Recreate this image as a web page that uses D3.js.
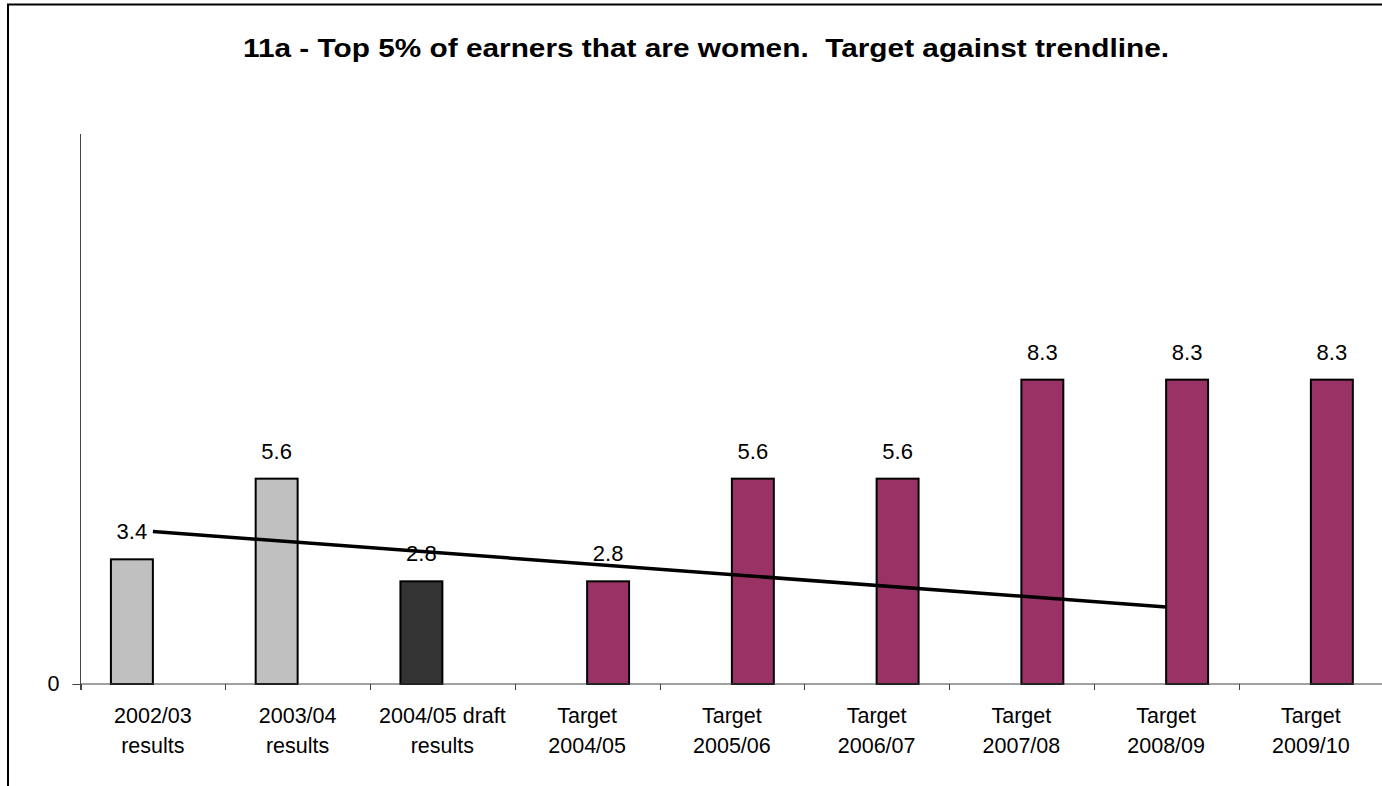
<!DOCTYPE html>
<meta charset="utf-8">
<style>
    body {
        margin: 0;
        background: white;
    }

    svg {
        font-family: "Liberation Sans", Arial, sans-serif;
        display: block;
    }
</style>
<body>
<script src="https://cdn.jsdelivr.net/npm/d3@7"></script>
<script>
    // chart values
    const categories = ["2002/03 results", "2003/04 results", "2004/05 draft results",
        "Target 2004/05", "Target 2005/06", "Target 2006/07", "Target 2007/08",
        "Target 2008/09", "Target 2009/10"];
    const categoryLines = [["2002/03", "results"], ["2003/04", "results"], ["2004/05 draft", "results"],
        ["Target", "2004/05"], ["Target", "2005/06"], ["Target", "2006/07"], ["Target", "2007/08"],
        ["Target", "2008/09"], ["Target", "2009/10"]];
    const resultValues = [3.4, 5.6, 2.8, null, null, null, null, null, null];
    const resultStatus = ["final", "final", "draft", null, null, null, null, null, null];
    const targetValues = [null, null, null, 2.8, 5.6, 5.6, 8.3, 8.3, 8.3];
    // trendline end points (first and last category it spans)
    const trendCategories = ["2002/03 results", "Target 2008/09"];
    const trendValues = [4.16, 2.10];
    const yTicks = [0];
    const title = "11a - Top 5% of earners that are women.  Target against trendline.";

    // Layout specifications
    const width = 1382;
    const height = 786;
    const plot = {left: 80.5, top: 134, bottom: 684, right: 1383.25};

    const svg = d3.select('body')
        .append('svg')
        .attr('width', width)
        .attr('height', height);

    // outer chart frame (runs off the right and bottom edge)
    svg.append('rect')
        .attr('x', 8)
        .attr('y', 4.5)
        .attr('width', width + 20)
        .attr('height', height + 20)
        .style('fill', 'none')
        .style('stroke', 'black')
        .style('stroke-width', 2);

    // title is a bit wider in the original than the font alone gives
    svg.append('text')
        .attr('x', 706)
        .attr('y', 57)
        .attr('textLength', 926)
        .attr('lengthAdjust', 'spacingAndGlyphs')
        .style('text-anchor', 'middle')
        .style('white-space', 'pre')
        .style('font-weight', 'bold')
        .style('font-size', '25px')
        .text(title);

    // scales
    const x = d3.scaleBand()
        .domain(categories)
        .range([plot.left, plot.right])
        .padding(0);

    // two slots per category, gap width like excel's 145%
    const slot = d3.scaleBand()
        .domain(["result", "target"])
        .range([0, x.bandwidth()])
        .paddingInner(0)
        .paddingOuter(0.725);

    const y = d3.scaleLinear()
        .domain([0, 15])
        .range([plot.bottom, plot.top]);

    const statusColor = {final: '#c0c0c0', draft: '#333333'};
    const targetColor = '#993366';

    // bars
    const bars = [];
    categories.forEach((c, i) => {
        if (resultValues[i] != null) {
            bars.push({cat: c, key: "result", value: resultValues[i], fill: statusColor[resultStatus[i]]});
        }
        if (targetValues[i] != null) {
            bars.push({cat: c, key: "target", value: targetValues[i], fill: targetColor});
        }
    });

    svg.append('g')
        .attr('class', 'bars')
        .selectAll('rect')
        .data(bars)
        .enter().append('rect')
        .attr('x', d => x(d.cat) + slot(d.key))
        .attr('y', d => y(d.value))
        .attr('width', slot.bandwidth())
        .attr('height', d => y(0) - y(d.value))
        .style('fill', d => d.fill)
        .style('stroke', 'black')
        .style('stroke-width', 2);

    // y axis
    const yAxis = d3.axisLeft(y)
        .tickValues(yTicks)
        .tickSize(8)
        .tickPadding(13)
        .tickFormat(d3.format('d'));

    const yg = svg.append('g')
        .attr('transform', `translate(${plot.left},0)`)
        .call(yAxis);
    yg.select('.domain').attr('d', `M0,${plot.top}V${plot.bottom + 6}`);

    // x axis with ticks between categories
    const xg = svg.append('g')
        .attr('class', 'x axis');
    xg.append('line')
        .attr('x1', plot.left)
        .attr('x2', plot.right)
        .attr('y1', plot.bottom)
        .attr('y2', plot.bottom)
        .style('stroke', '#444');
    xg.selectAll('.tick')
        .data(categories)
        .enter().append('line')
        .attr('class', 'tick')
        .attr('x1', d => Math.round(x(d)) + 0.5)
        .attr('x2', d => Math.round(x(d)) + 0.5)
        .attr('y1', plot.bottom)
        .attr('y2', plot.bottom + 6)
        .style('stroke', '#444');

    xg.selectAll('text')
        .data(categories)
        .enter().append('text')
        .attr('x', d => x(d) + x.bandwidth() / 2)
        .attr('y', 722.5)
        .style('text-anchor', 'middle')
        .style('font-size', '21.5px')
        .selectAll('tspan')
        .data((d, i) => categoryLines[i])
        .enter().append('tspan')
        .attr('x', function () { return d3.select(this.parentNode).attr('x'); })
        .attr('dy', (d, i) => i === 0 ? 0 : 30)
        .text(d => d);

    yg.selectAll('line').style('stroke', '#444');
    yg.select('.domain').style('stroke', '#444');
    yg.selectAll('text')
        .style('font-size', '21.5px')
        .style('font-family', '"Liberation Sans", Arial, sans-serif')
        .style('fill', 'black');

    // trendline
    const line = d3.line()
        .x(d => x(d.cat) + x.bandwidth() / 2)
        .y(d => y(d.value));
    svg.append('path')
        .datum(trendCategories.map((c, i) => ({cat: c, value: trendValues[i]})))
        .attr('d', line)
        .style('fill', 'none')
        .style('stroke', 'black')
        .style('stroke-width', 3.5);

    // value labels
    svg.append('g')
        .selectAll('text')
        .data(bars)
        .enter().append('text')
        .attr('x', d => x(d.cat) + slot(d.key) + slot.bandwidth() / 2)
        .attr('y', d => y(d.value) - 20)
        .style('text-anchor', 'middle')
        .style('font-size', '22px')
        .text(d => d3.format('.1f')(d.value));
</script>
</body>
</html>
